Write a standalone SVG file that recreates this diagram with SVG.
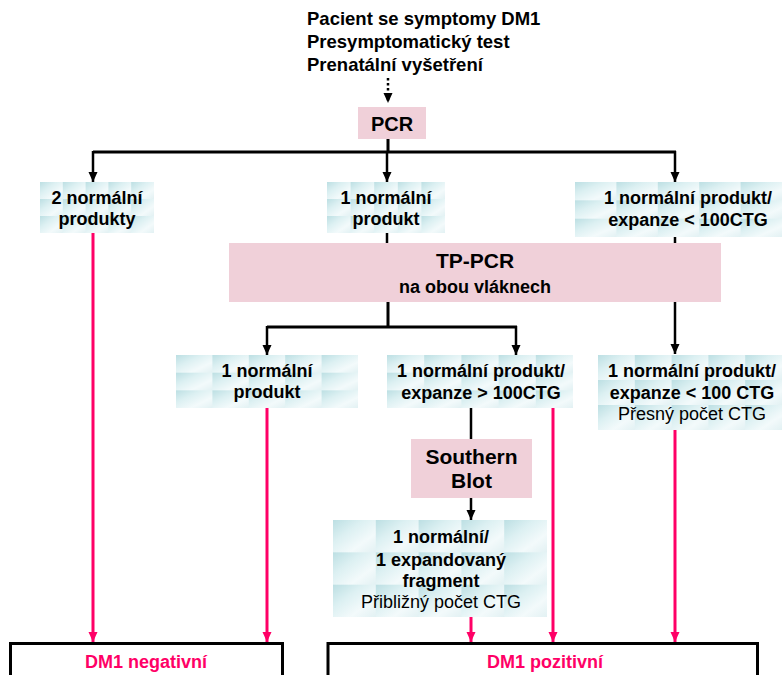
<svg xmlns="http://www.w3.org/2000/svg" width="783" height="675" viewBox="0 0 783 675">
<style>
  text { font-family: "Liberation Sans", Arial, sans-serif; fill: #000; }
  .b { font-weight: bold; font-size: 18px; }
  .r { font-weight: normal; font-size: 18px; }
  .c { text-anchor: middle; }
  .top { font-weight: bold; font-size: 18.5px; }
  .big { font-weight: bold; font-size: 20px; }
  .res { font-weight: bold; font-size: 18px; fill: #ff0066; text-anchor: middle; }
  .pink { fill: #f0d0d9; }
  .tex { fill: url(#texture); }
  .blk { stroke: #000; stroke-width: 2.5; fill: none; }
  .hz { stroke: #000; stroke-width: 3; fill: none; }
  .red { stroke: #ff0066; stroke-width: 3; fill: none; }
  .outcome { fill: #fff; stroke: #000; stroke-width: 3; }
</style>
<defs>
  <linearGradient id="tileGrad" x1="0" y1="0" x2="1" y2="1">
    <stop offset="0" stop-color="#bcdfe3"/>
    <stop offset="0.35" stop-color="#dcf0f2"/>
    <stop offset="0.7" stop-color="#f3fafb"/>
    <stop offset="1" stop-color="#e2f1f3"/>
  </linearGradient>
  <pattern id="texture" patternUnits="objectBoundingBox" width="0.2" height="0.3334" patternContentUnits="objectBoundingBox">
    <rect x="0" y="0" width="0.2" height="0.3334" fill="url(#tileGrad)"/>
  </pattern>
  <marker id="ah" markerUnits="userSpaceOnUse" markerWidth="10" markerHeight="10" viewBox="0 0 10 10" refX="10" refY="5" orient="auto">
    <path d="M0,0.5 L10,5 L0,9.5 Z" fill="#000"/>
  </marker>
  <marker id="ahr" markerUnits="userSpaceOnUse" markerWidth="10" markerHeight="10" viewBox="0 0 10 10" refX="10" refY="5" orient="auto">
    <path d="M0,0.5 L10,5 L0,9.5 Z" fill="#ff0066"/>
  </marker>
</defs>

<g id="connectors">
  <path class="blk" d="M388,78 V103" marker-end="url(#ah)" style="stroke-dasharray:2.5,2.5"/>
  <path class="hz" d="M388,139 V152 M93,152 H676"/>
  <path class="blk" d="M93,151 V182" marker-end="url(#ah)"/>
  <path class="blk" d="M387,151 V182" marker-end="url(#ah)"/>
  <path class="blk" d="M675,151 V182" marker-end="url(#ah)"/>
  <path class="blk" d="M387,233 V243"/>
  <path class="blk" d="M675,237 V354" marker-end="url(#ah)"/>
  <path class="hz" d="M388,302 V327 M267,327 H517"/>
  <path class="blk" d="M267,326 V355" marker-end="url(#ah)"/>
  <path class="blk" d="M516,326 V355" marker-end="url(#ah)"/>
  <path class="blk" d="M471,408 V439"/>
  <path class="blk" d="M471,498 V520" marker-end="url(#ah)"/>
  <path class="red" d="M93,233 V642" marker-end="url(#ahr)"/>
  <path class="red" d="M267,408 V642" marker-end="url(#ahr)"/>
  <path class="red" d="M471,617 V642" marker-end="url(#ahr)"/>
  <path class="red" d="M553,408 V642" marker-end="url(#ahr)"/>
  <path class="red" d="M675,430 V642" marker-end="url(#ahr)"/>
</g>

<g id="start">
  <text class="top" x="307" y="25">Pacient se symptomy DM1</text>
  <text class="top" x="307" y="48">Presymptomatický test</text>
  <text class="top" x="307" y="71">Prenatální vyšetření</text>
</g>

<g id="pcr">
  <rect class="pink" x="358" y="107" width="68" height="32"/>
  <text class="big c" x="392" y="131">PCR</text>
</g>

<g id="n2normal">
  <rect class="tex" x="40" y="182" width="114" height="51"/>
  <text class="b c" x="97" y="204">2 normální</text>
  <text class="b c" x="97" y="225">produkty</text>
</g>

<g id="n1normal">
  <rect class="tex" x="327" y="182" width="118" height="51"/>
  <text class="b c" x="386" y="204">1 normální</text>
  <text class="b c" x="386" y="225">produkt</text>
</g>

<g id="n1expLess">
  <rect class="tex" x="575" y="182" width="207" height="55"/>
  <text class="b c" x="688" y="204">1 normální produkt/</text>
  <text class="b c" x="688" y="226">expanze &lt; 100CTG</text>
</g>

<g id="tppcr">
  <rect class="pink" x="229" y="243" width="492" height="59"/>
  <text class="big c" x="475" y="268" style="font-size:21px">TP-PCR</text>
  <text class="b c" x="475" y="293">na obou vláknech</text>
</g>

<g id="tp1normal">
  <rect class="tex" x="176" y="355" width="182" height="53"/>
  <text class="b c" x="267" y="377">1 normální</text>
  <text class="b c" x="267" y="398">produkt</text>
</g>

<g id="tpExpMore">
  <rect class="tex" x="387" y="355" width="186" height="53"/>
  <text class="b c" x="481" y="377">1 normální produkt/</text>
  <text class="b c" x="481" y="399">expanze &gt; 100CTG</text>
</g>

<g id="tpExpLess">
  <rect class="tex" x="598" y="355" width="184" height="75"/>
  <text class="b c" x="692" y="377">1 normální produkt/</text>
  <text class="b c" x="692" y="399">expanze &lt; 100 CTG</text>
  <text class="r c" x="692" y="420">Přesný počet CTG</text>
</g>

<g id="southern">
  <rect class="pink" x="411" y="439" width="121" height="59"/>
  <text class="b c" x="471.5" y="464" style="font-size:21px">Southern</text>
  <text class="b c" x="471.5" y="488" style="font-size:21px">Blot</text>
</g>

<g id="fragment">
  <rect class="tex" x="333" y="520" width="214" height="97"/>
  <text class="b c" x="441" y="543">1 normální/</text>
  <text class="b c" x="441" y="566">1 expandovaný</text>
  <text class="b c" x="441" y="587">fragment</text>
  <text class="r c" x="441" y="608">Přibližný počet CTG</text>
</g>

<g id="negative">
  <rect class="outcome" x="10.5" y="643.5" width="272" height="45"/>
  <text class="res" x="146" y="668">DM1 negativní</text>
</g>

<g id="positive">
  <rect class="outcome" x="328" y="643.5" width="429.5" height="45"/>
  <text class="res" x="545" y="668">DM1 pozitivní</text>
</g>
</svg>
